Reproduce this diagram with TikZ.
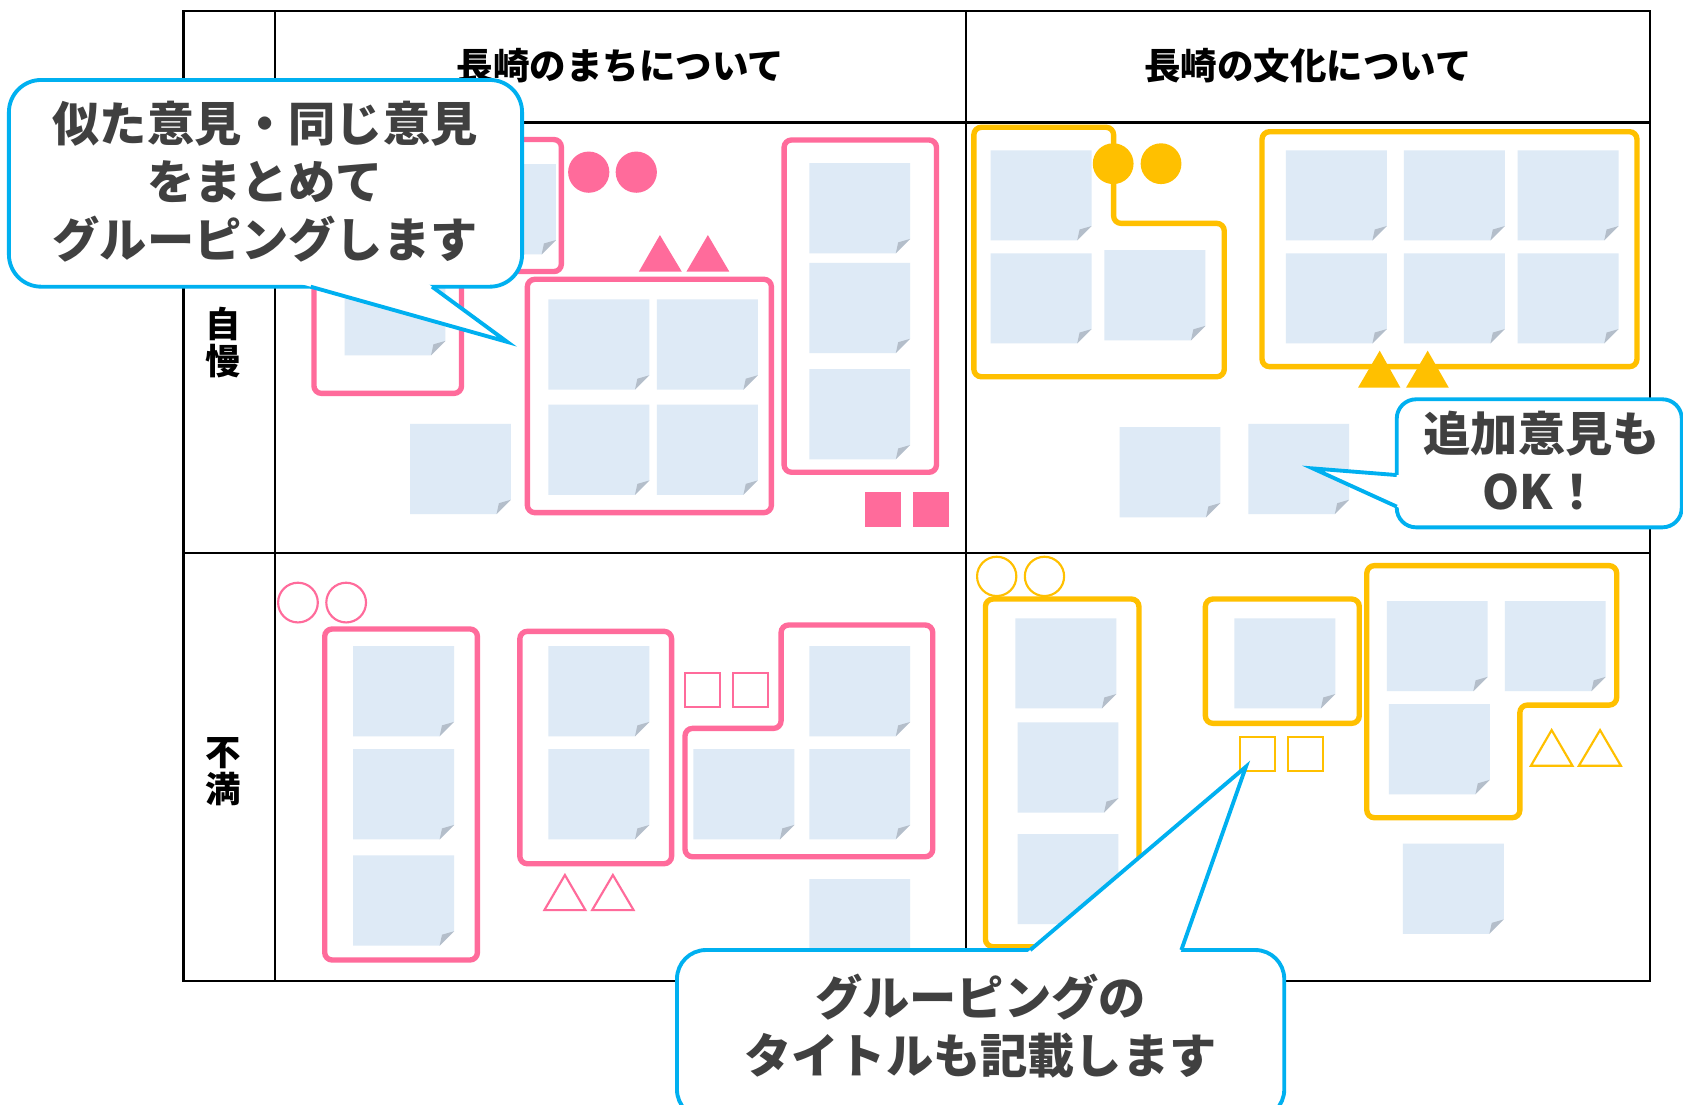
\documentclass[tikz,border=0pt]{standalone}
\usepackage{fontspec}
\setmainfont{Noto Sans CJK JP}
\usetikzlibrary{calc}
\definecolor{pinkc}{RGB}{255,107,155}
\definecolor{yellowc}{RGB}{255,192,0}
\definecolor{bluec}{RGB}{0,176,240}
\definecolor{notec}{RGB}{222,234,246}
\definecolor{foldc}{RGB}{180,190,202}
\definecolor{txtc}{RGB}{64,64,64}
\tikzset{
  tbl/.style={line width=2.2pt, draw=black},
  pinkframe/.style={draw=pinkc, line width=5pt, rounded corners=7pt},
  yellowframe/.style={draw=yellowc, line width=5pt, rounded corners=7pt},
  pinkline/.style={draw=pinkc, line width=2pt},
  yellowline/.style={draw=yellowc, line width=2pt},
  calloutbox/.style={draw=bluec, fill=white, line width=3.6pt, rounded corners=#1},
  callouttail/.style={draw=bluec, line width=3.6pt, line join=miter},
  callouttext/.style={text=txtc, font=\bfseries\fontsize{44}{54}\selectfont, align=center, inner sep=0pt},
  headtext/.style={font=\bfseries\fontsize{34}{40}\selectfont, inner sep=0pt},
  rowtext/.style={font=\bfseries\fontsize{33}{34}\selectfont, align=center, inner sep=0pt},
  stickynote/.pic={
    \fill[notec] (0,0) -- (94,0) -- (94,70.6) -- (80.6,84) -- (0,84) -- cycle;
    \fill[foldc] (94,70.6) -- (82.8,73.8) -- (80.6,84) -- cycle;
  },
}
\begin{document}
\begin{tikzpicture}[x=1pt,y=-1pt]
\useasboundingbox (0,0) rectangle (1568,1028.6);
\clip (0,0) rectangle (1568,1028.6);
\fill[white] (0,0) rectangle (1568,1028.6);

% table
\draw[tbl] (171,10) rectangle (1537,914);
\draw[tbl] (256,10) -- (256,914);
\draw[tbl] (900,10) -- (900,914);
\draw[tbl] (171,114) -- (1537,114);
\draw[tbl] (171,515) -- (1537,515);

\node[headtext] (h1) at (578,61.4) {長崎のまちについて};
\node[headtext] (h2) at (1218.5,61.4) {長崎の文化について};
\node[rowtext] (r1) at (208,319) {自\\慢};
\node[rowtext] (r2) at (208,719) {不\\満};

% pink frames
\draw[pinkframe] (400,130) rectangle (523,253);
\draw[pinkframe] (292.5,215) rectangle (430,366.5);
\draw[pinkframe] (491.3,260.2) rectangle (718.7,477.6);
\draw[pinkframe] (730.5,130.4) rectangle (872.5,440);
\draw[pinkframe] (302.5,586) rectangle (444.8,894.4);
\draw[pinkframe] (484.3,588.2) rectangle (625.7,804.7);
\draw[pinkframe] (727.7,582.3) -- (869,582.3) -- (869,798.2) -- (638.2,798.2) -- (638.2,678.6) -- (727.7,678.6) -- cycle;

% yellow frames
\draw[yellowframe] (907.3,118.6) -- (1037.5,118.6) -- (1037.5,208.1) -- (1140.6,208.1) -- (1140.6,351) -- (907.3,351) -- cycle;
\draw[yellowframe] (1175.8,122.7) rectangle (1525.1,341.6);
\draw[yellowframe] (918.1,558.1) rectangle (1061.1,882);
\draw[yellowframe] (1123,558.1) rectangle (1266.4,673.9);
\draw[yellowframe] (1273.4,527) -- (1506.2,527) -- (1506.2,656.9) -- (1416,656.9) -- (1416,761.8) -- (1273.4,761.8) -- cycle;

% sticky notes
\foreach \p in {(424,153),(321,247),(511,279),(612,279),(511,377),(612,377),(754,152),(754,245),(754,344),(382,395),
  (923,140),(923,236),(1029,233),(1198,140),(1308,140),(1414,140),(1198,236),(1308,236),(1414,236),(1043,398),(1163,395),
  (329,602),(329,698),(329,797),(511,602),(511,698),(754,602),(646,698),(754,698),(754,819),
  (946,576),(948,673),(948,777),(1150,576),(1292,560),(1402,560),(1294,656),(1307,786)}
  {\pic at \p {stickynote};}

% filled marks
\fill[pinkc] (548.5,160.4) circle (19.2);
\fill[pinkc] (592.8,160.4) circle (19.2);
\fill[pinkc] (595.2,253.1) -- (635.2,253.1) -- (614.8,219) -- cycle;
\fill[pinkc] (639.5,253.1) -- (679.5,253.1) -- (659.5,219) -- cycle;
\fill[pinkc] (805.8,458.4) rectangle (839.6,491.3);
\fill[pinkc] (850.9,458.4) rectangle (884.6,491.3);
\fill[yellowc] (1037.1,152.5) circle (19);
\fill[yellowc] (1081.7,152.5) circle (19);
\fill[yellowc] (1265.2,361.2) -- (1304.7,361.2) -- (1285.4,326.7) -- cycle;
\fill[yellowc] (1309.9,361.2) -- (1349.8,361.2) -- (1330.1,326.7) -- cycle;

% outline marks
\draw[pinkline] (277.6,561.4) circle (18.5);
\draw[pinkline] (322.5,561.4) circle (18.5);
\draw[pinkline] (507.2,847.9) -- (545.4,847.9) -- (526.3,815.2) -- cycle;
\draw[pinkline] (551.7,847.9) -- (590.3,847.9) -- (571,815.2) -- cycle;
\draw[pinkline] (638.2,626.7) rectangle (671,658.7);
\draw[pinkline] (683.1,626.7) rectangle (715.6,658.7);
\draw[yellowline] (928.6,537) circle (18.3);
\draw[yellowline] (973.1,537) circle (18.3);
\draw[yellowline] (1155.2,686.4) rectangle (1187.8,718.3);
\draw[yellowline] (1199.9,686.4) rectangle (1232.5,718.3);
\draw[yellowline] (1426.3,713.4) -- (1465,713.4) -- (1445.6,680.2) -- cycle;
\draw[yellowline] (1471,713.4) -- (1510.1,713.4) -- (1490.7,680.2) -- cycle;

% callout 1
\coordinate (t1) at (472.5,318.5);
\coordinate (b1l) at (289.4,267.1);
\coordinate (b1r) at (402.5,267.1);
\draw[calloutbox=30pt] (8.3,74.5) rectangle (486.4,267.1);
\fill[white] ($(t1)!1.08!(b1l)$) -- (t1) -- ($(t1)!1.08!(b1r)$) -- cycle;
\draw[callouttail] (b1l) -- (t1) -- (b1r);
\node[callouttext] (c1) at (247,169.5) {似た意見・同じ意見\\をまとめて\\グルーピングします};

% callout 2
\coordinate (t2) at (1223.1,436.4);
\coordinate (b2t) at (1301.3,442.6);
\coordinate (b2b) at (1301.3,472);
\draw[calloutbox=18pt] (1301.3,372) rectangle (1566.8,491.3);
\fill[white] ($(t2)!1.08!(b2t)$) -- (t2) -- ($(t2)!1.08!(b2b)$) -- cycle;
\draw[callouttail] (b2t) -- (t2) -- (b2b);
\node[callouttext] (c2) at (1436.4,429.4) {追加意見も\\OK！};

% callout 3
\coordinate (t3) at (1160.8,714.3);
\coordinate (b3l) at (959.8,885.1);
\coordinate (b3r) at (1100.6,885.1);
\draw[calloutbox=27pt] (630.7,885.1) rectangle (1196.5,1042);
\fill[white] ($(t3)!1.08!(b3l)$) -- (t3) -- ($(t3)!1.08!(b3r)$) -- cycle;
\draw[callouttail] (b3l) -- (t3) -- (b3r);
\node[callouttext] (c3) at (913.5,956) {グルーピングの\\タイトルも記載します};
\end{tikzpicture}
\end{document}
